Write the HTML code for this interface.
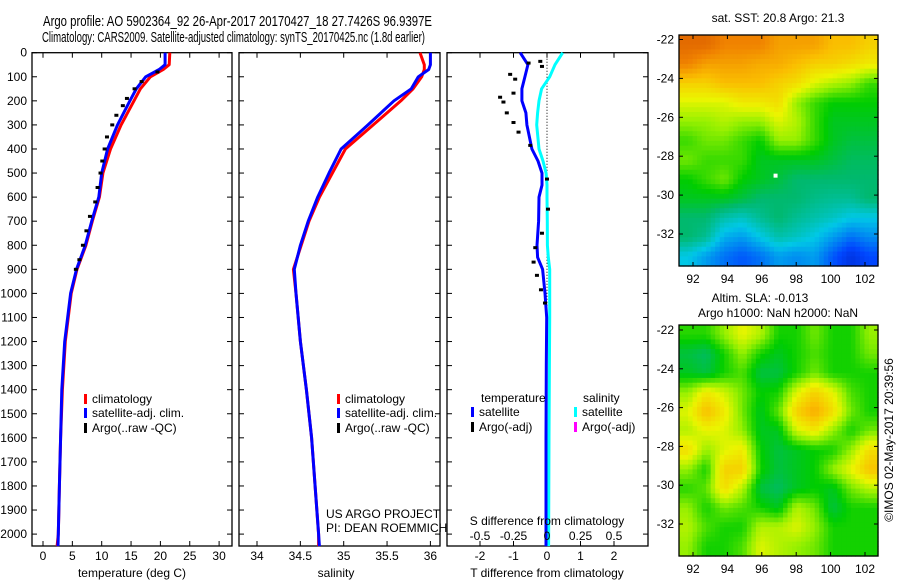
<!DOCTYPE html>
<html><head><meta charset="utf-8"><style>
html,body{margin:0;padding:0;background:#fff;}
svg{display:block;font-family:"Liberation Sans",sans-serif;}
</style></head><body>
<svg id="fig" width="900" height="580" viewBox="0 0 900 580">
<rect width="900" height="580" fill="#fff"/>
<text x="43" y="26" font-size="15" textLength="389" lengthAdjust="spacingAndGlyphs">Argo profile: AO 5902364_92 26-Apr-2017 20170427_18 27.7426S 96.9397E</text>
<text x="42" y="42" font-size="15" textLength="383" lengthAdjust="spacingAndGlyphs">Climatology: CARS2009. Satellite-adjusted climatology: synTS_20170425.nc (1.8d earlier)</text>
<g id="g1"></g>
<g id="g2"></g>
<g id="g3"></g>
<g id="g4"></g>
<g id="g5"></g>
<text x="778" y="22" font-size="12" text-anchor="middle">sat. SST: 20.8 Argo: 21.3</text>
<text x="760" y="302" font-size="12" text-anchor="middle">Altim. SLA: -0.013</text>
<text x="778" y="317" font-size="12" text-anchor="middle">Argo h1000: NaN h2000: NaN</text>
<text x="0" y="0" font-size="12" text-anchor="middle" transform="translate(893,440) rotate(-90)">©IMOS 02-May-2017 20:39:56</text>
</svg>
<script>
// ---- data ----
const depths = [0,50,70,100,150,200,300,400,500,600,700,800,900,1000,1200,1400,1600,1800,2000,2050];
const tempClim = [21.6,21.5,20.5,18.3,16.6,15.5,13.3,11.5,10.2,9.6,8.4,7.3,5.8,4.8,3.8,3.3,3.0,2.8,2.6,2.4];
const tempSat  = [20.8,20.8,19.8,17.5,15.9,14.8,12.7,11.0,10.0,9.5,8.3,7.2,5.7,4.7,3.7,3.2,3.0,2.8,2.6,2.55];
const argoTDepths = [80,120,150,190,220,260,300,350,400,450,500,560,620,680,740,800,860,900];
const argoTemp    = [19.5,16.8,15.6,14.3,13.6,12.5,11.8,10.9,10.5,10.1,9.8,9.3,8.9,8.0,7.4,6.8,6.2,5.6];
const salClim = [35.88,35.93,35.93,35.9,35.8,35.66,35.34,35.02,34.87,34.72,34.6,34.51,34.42,34.45,34.5,34.57,34.63,34.67,34.71,34.71];
const salSat  = [36.0,36.0,35.98,35.86,35.78,35.58,35.28,34.97,34.83,34.7,34.59,34.5,34.43,34.45,34.5,34.57,34.63,34.67,34.71,34.72];
const diffDepths = [0,50,100,150,200,250,300,400,450,500,550,600,700,800,850,900,1000,1100,1300,1600,2050];
const dTsat = [-0.8,-0.57,-0.66,-0.75,-0.75,-0.63,-0.6,-0.45,-0.27,-0.15,-0.15,-0.24,-0.25,-0.3,-0.28,-0.13,-0.06,-0.01,-0.02,-0.03,-0.03];
const dSsat = [0.117,0.06,0.02,-0.04,-0.06,-0.07,-0.077,-0.06,-0.03,-0.007,0,0,0.002,0.003,0.01,0.02,0.02,0.02,0.018,0.015,0.012];
const argoDDepths = [36,43,57,90,110,168,185,205,250,290,330,385,525,650,750,810,870,925,985,1040];
const argoDT = [-0.2,-0.55,-0.15,-1.1,-0.95,-1.0,-1.4,-1.3,-1.2,-1.0,-0.85,-0.5,-0.0,0.03,-0.15,-0.35,-0.4,-0.3,-0.18,-0.06];
const tempTicks = [0,5,10,15,20,25,30];
const salTicks = [34,34.5,35,35.5,36];
const tdTicks = [-2,-1,0,1,2];
const sdTicks = [-0.5,-0.25,0,0.25,0.5];
const sdTickLabels = ["-0.5","-0.25","0","0.25","0.5"];
const depthTicks = [0,100,200,300,400,500,600,700,800,900,1000,1100,1200,1300,1400,1500,1600,1700,1800,1900,2000];
const lonTicks = [92,94,96,98,100,102];
const latTicks = [-22,-24,-26,-28,-30,-32];
const sstGrid = [
[0.9,0.9,0.85,0.85,0.85,0.8,0.8,0.8,0.75,0.75,0.72],
[0.85,0.8,0.8,0.8,0.78,0.78,0.75,0.72,0.72,0.7,0.68],
[0.72,0.72,0.75,0.75,0.75,0.72,0.7,0.65,0.62,0.6,0.55],
[0.65,0.65,0.65,0.68,0.68,0.7,0.6,0.55,0.52,0.52,0.52],
[0.6,0.6,0.62,0.6,0.6,0.65,0.62,0.55,0.5,0.5,0.5],
[0.55,0.58,0.58,0.55,0.52,0.6,0.6,0.55,0.5,0.48,0.48],
[0.58,0.55,0.55,0.55,0.5,0.5,0.5,0.5,0.48,0.46,0.46],
[0.52,0.55,0.58,0.52,0.5,0.48,0.45,0.45,0.45,0.45,0.45],
[0.5,0.5,0.5,0.48,0.45,0.45,0.45,0.43,0.42,0.42,0.45],
[0.45,0.45,0.4,0.38,0.42,0.45,0.42,0.4,0.38,0.35,0.35],
[0.45,0.42,0.32,0.3,0.35,0.4,0.38,0.35,0.3,0.25,0.28],
[0.35,0.3,0.25,0.22,0.25,0.3,0.28,0.3,0.22,0.15,0.2]];
const slaGrid = [
[0.54,0.54,0.6,0.66,0.62,0.53,0.53,0.58,0.53,0.53,0.6],
[0.48,0.46,0.53,0.6,0.53,0.5,0.53,0.56,0.53,0.53,0.58],
[0.5,0.48,0.53,0.56,0.48,0.48,0.53,0.58,0.53,0.53,0.53],
[0.6,0.68,0.64,0.58,0.52,0.53,0.65,0.72,0.66,0.56,0.53],
[0.65,0.75,0.68,0.58,0.5,0.57,0.72,0.78,0.7,0.58,0.53],
[0.62,0.66,0.65,0.6,0.5,0.5,0.64,0.68,0.6,0.53,0.58],
[0.7,0.6,0.65,0.68,0.52,0.48,0.5,0.52,0.53,0.6,0.7],
[0.6,0.53,0.72,0.72,0.53,0.48,0.5,0.52,0.6,0.66,0.74],
[0.54,0.57,0.7,0.62,0.48,0.46,0.5,0.52,0.5,0.58,0.62],
[0.6,0.53,0.58,0.56,0.53,0.5,0.62,0.58,0.48,0.53,0.53],
[0.62,0.56,0.53,0.53,0.62,0.62,0.65,0.6,0.53,0.53,0.53],
[0.6,0.53,0.53,0.56,0.65,0.62,0.6,0.58,0.53,0.53,0.53]];
const argoLon = 96.8, argoLat = -29.0;

// ---- helpers ----
const NS = "http://www.w3.org/2000/svg";
function mk(tag, attrs, parent){const e=document.createElementNS(NS,tag);for(const k in attrs)e.setAttribute(k,attrs[k]);parent.appendChild(e);return e;}
const TOP=52.7, BOT=546, PXM=0.2407;
const yD = d => TOP + d*PXM;
const xT = t => 43 + t*5.87;
const xS = s => 257 + (s-34)*86.7;
const xTd = t => 547 + t*33.5;
const xSd = s => 547 + s*134;

function frame(g, x0, x1, name){
  const r = mk('rect',{x:x0,y:TOP,width:x1-x0,height:BOT-TOP,fill:'none',stroke:'#000','stroke-width':1.3},g);
  
  
  depthTicks.forEach(d=>{
    mk('line',{x1:x0,x2:x0+5,y1:yD(d),y2:yD(d),stroke:'#000'},g);
    mk('line',{x1:x1,x2:x1-5,y1:yD(d),y2:yD(d),stroke:'#000'},g);
  });
}
function xticks(g, vals, fx, labels, ly){
  vals.forEach((v,i)=>{
    const x=fx(v);
    mk('line',{x1:x,x2:x,y1:TOP,y2:TOP+5,stroke:'#000'},g);
    mk('line',{x1:x,x2:x,y1:BOT,y2:BOT-5,stroke:'#000'},g);
    if(labels){
      const t=mk('text',{x:x,y:ly,'font-size':12,'text-anchor':'middle'},g);
      t.textContent=labels[i];
      
      
    }
  });
}
function line(g, xs, ds, fx, color, name, w){
  const pts = xs.map((v,i)=>fx(v).toFixed(1)+','+yD(ds[i]).toFixed(1)).join(' ');
  const p = mk('polyline',{points:pts,fill:'none',stroke:color,'stroke-width':w||3,'stroke-linejoin':'round'},g);
  
  
}
function dots(g, xs, ds, fx, name){
  xs.forEach((v,i)=>{
    const r = mk('rect',{x:fx(v)-2,y:yD(ds[i])-1.5,width:4,height:3,fill:'#000'},g);
    
    
  });
}
function txt(g, x, y, s, name, anchor, size){
  const t=mk('text',{x:x,y:y,'font-size':size||12,'text-anchor':anchor||'start'},g);
  t.textContent=s;
  
  
  return t;
}
function legend(g, x, y, color, label, name){
  const r=mk('rect',{x:x,y:y-9,width:3,height:10,fill:color},g);
  
  
  txt(g, x+8, y, label, name);
}

// ---- panel 1: temperature ----
const g1=document.getElementById('g1');
frame(g1, 32, 232, 'temperature-panel');
xticks(g1, tempTicks, xT, tempTicks.map(String), 560);
depthTicks.forEach(d=>txt(g1, 27, yD(d)+4, String(d), 'depth-tick-label','end'));
line(g1, tempClim, depths, xT, '#ff0000', 'temperature-climatology-line');
line(g1, tempSat, depths, xT, '#0000ff', 'temperature-satellite-line');
dots(g1, argoTemp, argoTDepths, xT, 'argo-temperature-point');
legend(g1, 84, 403, '#ff0000', 'climatology', 'legend-climatology');
legend(g1, 84, 417, '#0000ff', 'satellite-adj. clim.', 'legend-satellite-adj');
legend(g1, 84, 432, '#000', 'Argo(..raw -QC)', 'legend-argo');
txt(g1, 132, 577, 'temperature (deg C)', 'x-axis-title-temperature', 'middle');

// ---- panel 2: salinity ----
const g2=document.getElementById('g2');
frame(g2, 239, 440, 'salinity-panel');
xticks(g2, salTicks, xS, ['34','34.5','35','35.5','36'], 560);
line(g2, salClim, depths, xS, '#ff0000', 'salinity-climatology-line');
line(g2, salSat, depths, xS, '#0000ff', 'salinity-satellite-line');
legend(g2, 337, 403, '#ff0000', 'climatology', 'legend-climatology');
legend(g2, 337, 417, '#0000ff', 'satellite-adj. clim.', 'legend-satellite-adj');
legend(g2, 337, 432, '#000', 'Argo(..raw -QC)', 'legend-argo');
txt(g2, 326, 518, 'US ARGO PROJECT', 'project-credit');
txt(g2, 326, 532, 'PI: DEAN ROEMMICH', 'pi-credit');
txt(g2, 336, 577, 'salinity', 'x-axis-title-salinity', 'middle');

// ---- panel 3: differences ----
const g3=document.getElementById('g3');
frame(g3, 447, 648, 'difference-panel');
xticks(g3, tdTicks, xTd, tdTicks.map(String), 560);
const zl=mk('line',{x1:xTd(0),x2:xTd(0),y1:TOP,y2:BOT,stroke:'#000','stroke-dasharray':'1,2'},g3);


line(g3, dSsat, diffDepths, xSd, '#00ffff', 'salinity-diff-satellite-line');
line(g3, dTsat, diffDepths, xTd, '#0000ff', 'temperature-diff-satellite-line');
dots(g3, argoDT, argoDDepths, xTd, 'argo-temperature-diff-point');
txt(g3, 481, 402, 'temperature', 'legend-temperature-heading');
legend(g3, 471, 416, '#0000ff', 'satellite', 'legend-temperature-satellite');
legend(g3, 471, 431, '#000', 'Argo(-adj)', 'legend-temperature-argo');
txt(g3, 583, 402, 'salinity', 'legend-salinity-heading');
legend(g3, 574, 416, '#00ffff', 'satellite', 'legend-salinity-satellite');
legend(g3, 574, 431, '#ff00ff', 'Argo(-adj)', 'legend-salinity-argo');
txt(g3, 547, 525, 'S difference from climatology', 'x-axis-title-s-difference', 'middle');
sdTicks.forEach((v,i)=>txt(g3, xSd(v), 540, sdTickLabels[i], 's-diff-tick-label', 'middle'));
txt(g3, 547, 577, 'T difference from climatology', 'x-axis-title-t-difference', 'middle');

// ---- maps ----
const stops=[[0,[0,0,140]],[0.2,[0,70,255]],[0.35,[0,200,230]],[0.45,[0,185,110]],[0.52,[0,205,0]],[0.6,[150,240,0]],[0.66,[235,245,0]],[0.75,[250,190,0]],[0.85,[240,130,0]],[1,[200,60,0]]];
function cmap(v){
  for(let i=1;i<stops.length;i++){
    if(v<=stops[i][0]){const a=stops[i-1],b=stops[i],f=(v-a[0])/(b[0]-a[0]);
      const c=a[1].map((x,k)=>Math.round(x+(b[1][k]-x)*f));return 'rgb('+c.join(',')+')';}
  }
  return 'rgb(200,60,0)';
}
function sample(grid, fr, fc){
  const R=grid.length, C=grid[0].length;
  const r=Math.min(Math.max(fr,0),R-1), c=Math.min(Math.max(fc,0),C-1);
  const r0=Math.floor(r), c0=Math.floor(c), r1=Math.min(r0+1,R-1), c1=Math.min(c0+1,C-1);
  const a=r-r0, b=c-c0;
  return grid[r0][c0]*(1-a)*(1-b)+grid[r0][c1]*(1-a)*b+grid[r1][c0]*a*(1-b)+grid[r1][c1]*a*b;
}
function drawMap(gid, grid, y0, y1, lat22, lat32, name){
  const g=document.getElementById(gid);
  const x0=679, x1=878;
  const lonX = lo => 693 + (lo-92)*17.2;
  const latY = la => lat22 + (-22-la)*(lat32-lat22)/10;
  const rows=grid.length, cols=grid[0].length, up=4;
  const NR=rows*up, NC=cols*up;
  const cw=(x1-x0)/NC, ch=(y1-y0)/NR;
  for(let r=0;r<NR;r++)for(let c=0;c<NC;c++){
    const v=sample(grid,(r+0.5)/up-0.5,(c+0.5)/up-0.5);
    const e=mk('rect',{x:(x0+c*cw).toFixed(2),y:(y0+r*ch).toFixed(2),width:(cw+0.6).toFixed(2),height:(ch+0.6).toFixed(2),fill:cmap(v)},g);
    
    
  }
  const fr=mk('rect',{x:x0,y:y0,width:x1-x0,height:y1-y0,fill:'none',stroke:'#000','stroke-width':1.3},g);
  
  
  lonTicks.forEach(lo=>{
    const x=lonX(lo);
    mk('line',{x1:x,x2:x,y1:y0,y2:y0+4,stroke:'#000'},g);
    mk('line',{x1:x,x2:x,y1:y1,y2:y1-4,stroke:'#000'},g);
    txt(g, x, y1+17, String(lo), name+'-lon-label', 'middle');
  });
  latTicks.forEach(la=>{
    const y=latY(la);
    mk('line',{x1:x0,x2:x0+4,y1:y,y2:y,stroke:'#000'},g);
    mk('line',{x1:x1,x2:x1-4,y1:y,y2:y,stroke:'#000'},g);
    txt(g, 674, y+4, String(la), name+'-lat-label', 'end');
  });
  return {lonX, latY, g};
}
const m1=drawMap('g4', sstGrid, 35, 266, 39.5, 234, 'sst-map');
const fl=mk('rect',{x:m1.lonX(argoLon)-2,y:m1.latY(argoLat)-2,width:4,height:4,fill:'#fff'},m1.g);


drawMap('g5', slaGrid, 325, 556, 330, 524, 'sla-map');
</script>
</body></html>
